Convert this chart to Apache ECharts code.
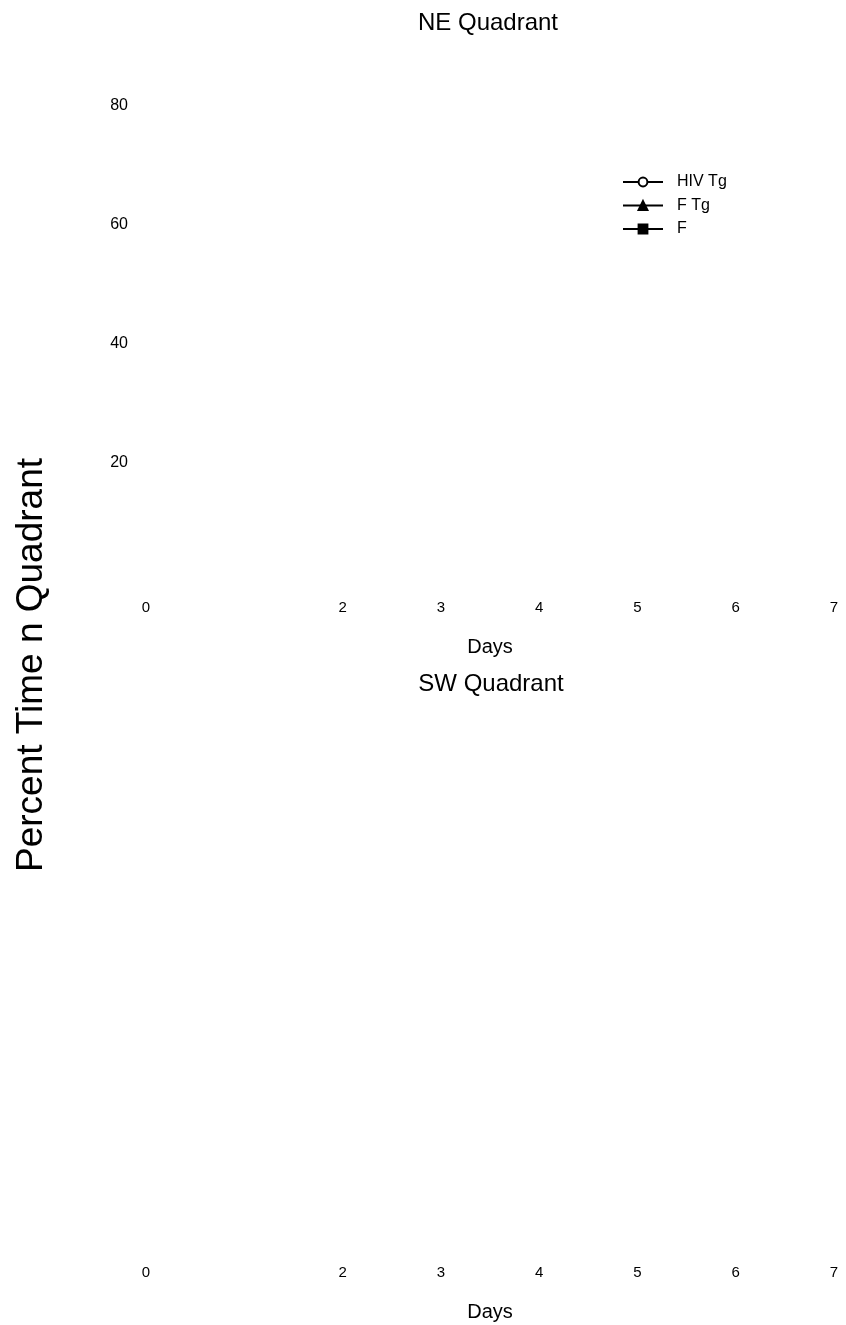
<!DOCTYPE html>
<html>
<head>
<meta charset="utf-8">
<script src="https://cdn.jsdelivr.net/npm/echarts@6/dist/echarts.min.js"></script>
<style>
html,body{margin:0;padding:0;background:#fff;}
#chart{width:846px;height:1325px;}
</style>
</head>
<body>
<div id="chart"></div>
<script>
// Data (no data marks are visible in the reference; series are empty)
var seriesNames = ['HIV Tg', 'F Tg', 'F'];
var neHivTg = [];
var neFTg = [];
var neF = [];
var swHivTg = [];
var swFTg = [];
var swF = [];
// Tick labels
var xTickLabels = ['0', '', '2', '3', '4', '5', '6', '7'];
var neYTickLabels = ['', '20', '40', '60', '80'];
var swYTickLabels = ['', '', '', '', ''];
var panelTitles = ['NE Quadrant', 'SW Quadrant'];
var xName = 'Days';
var yName = 'Percent Time n Quadrant';

var FONT = '"Liberation Sans", Arial, sans-serif';
var chart = echarts.init(document.getElementById('chart'), null, {renderer: 'canvas'});

function xAxis(gridIndex) {
  return {
    type: 'value', gridIndex: gridIndex, min: 0, max: 7, interval: 1,
    axisLine: {show: false}, axisTick: {show: false}, splitLine: {show: false},
    axisLabel: {
      margin: 19, color: '#000', fontFamily: FONT, fontSize: 15,
      formatter: function (v) { return xTickLabels[Math.round(v)]; }
    },
    name: xName, nameLocation: 'middle', nameGap: 56,
    nameTextStyle: {color: '#000', fontFamily: FONT, fontSize: 20}
  };
}
function yAxis(gridIndex, labels) {
  return {
    type: 'value', gridIndex: gridIndex, min: 0, max: 80, interval: 20,
    axisLine: {show: false}, axisTick: {show: false}, splitLine: {show: false},
    axisLabel: {
      margin: 18, color: '#000', fontFamily: FONT, fontSize: 16,
      formatter: function (v) { return labels[Math.round(v / 20)]; }
    }
  };
}
function mk(name, data, xi, symbol, fill) {
  return {
    name: name, type: 'line', xAxisIndex: xi, yAxisIndex: xi, data: data,
    symbol: symbol, symbolSize: symbol === 'triangle' ? 11 : 10,
    lineStyle: {color: '#000', width: 1},
    itemStyle: {color: fill, borderColor: '#000', borderWidth: 1.2}
  };
}

chart.setOption({
  backgroundColor: '#fff',
  animation: false,
  textStyle: {fontFamily: FONT},
  legend: {
    orient: 'vertical', left: 622, top: 174, padding: 0,
    itemWidth: 40, itemHeight: 11, itemGap: 7.5,
    textStyle: {fontFamily: FONT, fontSize: 16, color: '#000', lineHeight: 16, padding: [0, 0, 0, 9]},
    data: seriesNames
  },
  grid: [
    {left: 146, right: 12, top: 106, height: 475, containLabel: false},
    {left: 146, right: 12, top: 771, height: 475, containLabel: false}
  ],
  xAxis: [xAxis(0), xAxis(1)],
  yAxis: [yAxis(0, neYTickLabels), yAxis(1, swYTickLabels)],
  graphic: [
    {type: 'text', x: 488, y: 23,
     style: {text: panelTitles[0], fontFamily: FONT, fontSize: 24, fill: '#000', align: 'center', verticalAlign: 'middle'}},
    {type: 'text', x: 491, y: 684,
     style: {text: panelTitles[1], fontFamily: FONT, fontSize: 24, fill: '#000', align: 'center', verticalAlign: 'middle'}},
    {type: 'text', x: 32, y: 665, rotation: Math.PI / 2,
     style: {text: yName, fontFamily: FONT, fontSize: 37, fill: '#000', align: 'center', verticalAlign: 'middle'}}
  ],
  series: [
    mk(seriesNames[0], neHivTg, 0, 'circle', '#fff'),
    mk(seriesNames[1], neFTg, 0, 'triangle', '#000'),
    mk(seriesNames[2], neF, 0, 'rect', '#000'),
    mk(seriesNames[0], swHivTg, 1, 'circle', '#fff'),
    mk(seriesNames[1], swFTg, 1, 'triangle', '#000'),
    mk(seriesNames[2], swF, 1, 'rect', '#000')
  ]
});
</script>
</body>
</html>
